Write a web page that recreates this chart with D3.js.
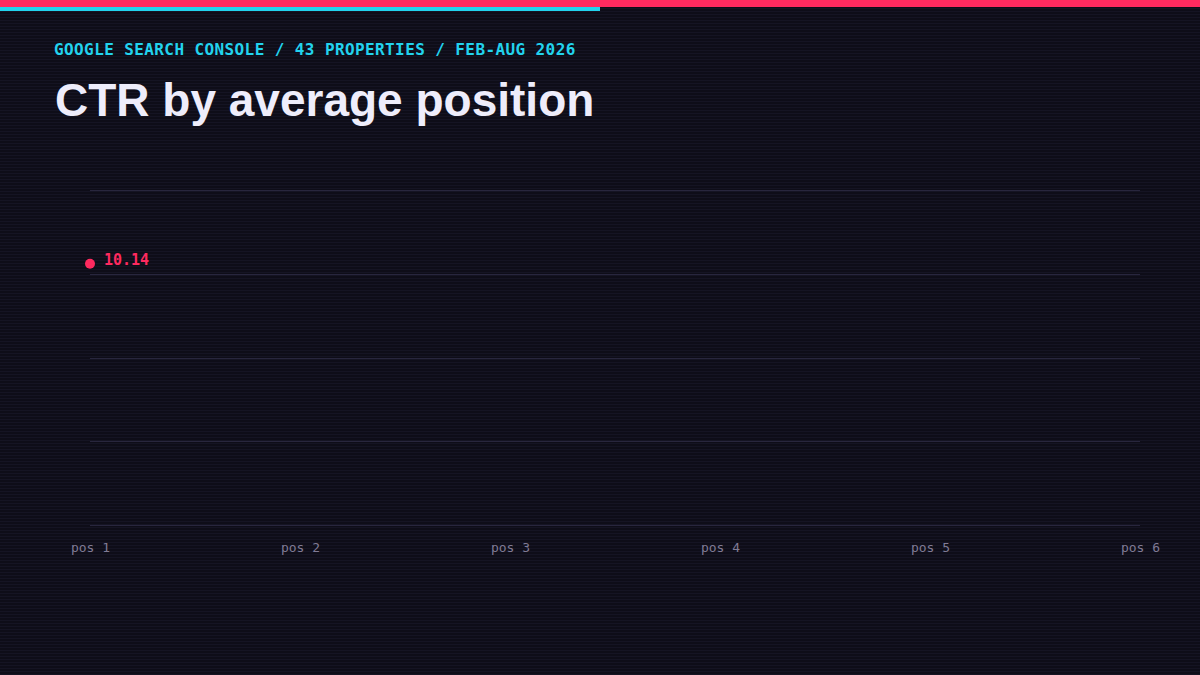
<!DOCTYPE html>
<html>
<head>
<meta charset="utf-8">
<script src="https://cdn.jsdelivr.net/npm/d3@7"></script>
<style>
  html, body { margin: 0; padding: 0; background: #0e0d18; }
  svg { display: block; }
</style>
</head>
<body>
<div id="viz"></div>
<script>
// data
var positions = ["pos 1", "pos 2", "pos 3", "pos 4", "pos 5", "pos 6"];
var ctrValues = [10.14];
var yMax = 13;
var gridSteps = 4;

var width = 1200, height = 675;

var svg = d3.select("#viz").append("svg")
    .attr("width", width)
    .attr("height", height);

// scanline pattern
var defs = svg.append("defs");
var pat = defs.append("pattern")
    .attr("id", "scan")
    .attr("width", 4).attr("height", 3)
    .attr("patternUnits", "userSpaceOnUse");
pat.append("rect").attr("width", 4).attr("height", 3).attr("fill", "#0e0d18");
pat.append("rect").attr("y", 2).attr("width", 4).attr("height", 1).attr("fill", "#151423");

svg.append("rect").attr("width", width).attr("height", height).attr("fill", "url(#scan)");

// top bars
svg.append("rect").attr("x", 0).attr("y", 0).attr("width", width).attr("height", 7).attr("fill", "#ff2a5f");
svg.append("rect").attr("x", 0).attr("y", 7).attr("width", 600).attr("height", 4).attr("fill", "#22d3ee");

// headings
svg.append("text")
    .attr("x", 54).attr("y", 55)
    .attr("fill", "#22d3ee")
    .style("font-family", "'DejaVu Sans Mono', monospace")
    .style("font-weight", "bold")
    .style("font-size", "16px")
    .style("letter-spacing", "0.4px")
    .text("GOOGLE SEARCH CONSOLE / 43 PROPERTIES / FEB-AUG 2026");

svg.append("text")
    .attr("x", 55).attr("y", 116)
    .attr("fill", "#eeedfb")
    .style("font-family", "'Liberation Sans', Arial, sans-serif")
    .style("font-weight", "bold")
    .style("font-size", "46px")
    .text("CTR by average position");

// scales
var x = d3.scalePoint().domain(positions).range([90, 1140]);
var y = d3.scaleLinear().domain([0, yMax]).range([525, 190]);

var g = svg.append("g");

// gridlines
g.selectAll("line.grid")
    .data(d3.range(gridSteps + 1).map(function(i){ return yMax * i / gridSteps; }))
    .enter().append("line")
    .attr("class", "grid")
    .attr("x1", 90).attr("x2", 1140)
    .attr("y1", function(d){ return Math.round(y(d)) + 0.5; })
    .attr("y2", function(d){ return Math.round(y(d)) + 0.5; })
    .attr("stroke", "#28263d")
    .attr("stroke-width", 1);

// x axis labels
var xAxis = d3.axisBottom(x).tickSize(0).tickPadding(0);
var ax = g.append("g").attr("transform", "translate(0,552)").call(xAxis);
ax.select(".domain").remove();
ax.selectAll("text")
    .attr("y", 0).attr("dy", 0)
    .attr("fill", "#807b95")
    .style("font-family", "'DejaVu Sans Mono', monospace")
    .style("font-size", "13px");

// point(s)
var pts = ctrValues.map(function(v, i){ return { pos: positions[i], v: v }; });

g.selectAll("circle.pt").data(pts).enter().append("circle")
    .attr("class", "pt")
    .attr("cx", function(d){ return x(d.pos); })
    .attr("cy", function(d){ return y(d.v); })
    .attr("r", 5)
    .attr("fill", "#ff2a5f");

g.selectAll("text.val").data(pts).enter().append("text")
    .attr("class", "val")
    .attr("x", function(d){ return x(d.pos) + 14; })
    .attr("y", function(d){ return y(d.v) + 1; })
    .attr("fill", "#ff2a5f")
    .style("font-family", "'DejaVu Sans Mono', monospace")
    .style("font-weight", "bold")
    .style("font-size", "15px")
    .text(function(d){ return d.v.toFixed(2); });
</script>
</body>
</html>
